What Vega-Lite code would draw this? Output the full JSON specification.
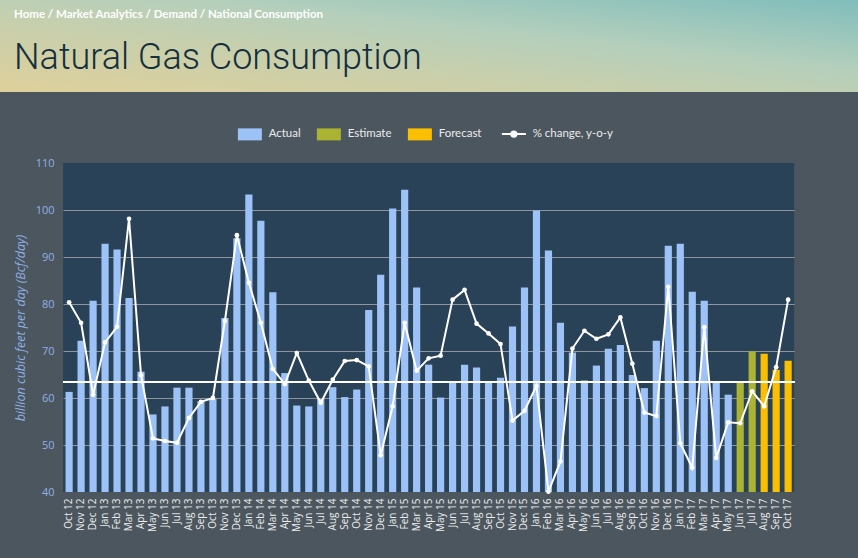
{
  "$schema": "https://vega.github.io/schema/vega-lite/v6.json",
  "background": "#4b565e",
  "padding": {"left": 0, "top": 0, "right": 0, "bottom": 26},
  "spacing": 36,
  "center": true,
  "config": {
    "view": {"stroke": null},
    "legend": {"layout": {"top": {"anchor": "middle"}}}
  },
  "resolve": {"scale": {"color": "independent"}, "legend": {"color": "independent"}},
  "datasets": {
    "gas": [
      {"month": "Oct 12", "value": 61.3, "type": "Actual", "pct": 9.0},
      {"month": "Nov 12", "value": 72.2, "type": "Actual", "pct": 6.7},
      {"month": "Dec 12", "value": 80.7, "type": "Actual", "pct": -1.4},
      {"month": "Jan 13", "value": 92.8, "type": "Actual", "pct": 4.5},
      {"month": "Feb 13", "value": 91.6, "type": "Actual", "pct": 6.25},
      {"month": "Mar 13", "value": 81.3, "type": "Actual", "pct": 18.4},
      {"month": "Apr 13", "value": 65.6, "type": "Actual", "pct": 0.8},
      {"month": "May 13", "value": 56.5, "type": "Actual", "pct": -6.3},
      {"month": "Jun 13", "value": 58.2, "type": "Actual", "pct": -6.6},
      {"month": "Jul 13", "value": 62.2, "type": "Actual", "pct": -6.8},
      {"month": "Aug 13", "value": 62.2, "type": "Actual", "pct": -4.0},
      {"month": "Sep 13", "value": 59.3, "type": "Actual", "pct": -2.2},
      {"month": "Oct 13", "value": 59.8, "type": "Actual", "pct": -1.75},
      {"month": "Nov 13", "value": 77.0, "type": "Actual", "pct": 6.9},
      {"month": "Dec 13", "value": 94.0, "type": "Actual", "pct": 16.55},
      {"month": "Jan 14", "value": 103.3, "type": "Actual", "pct": 11.2},
      {"month": "Feb 14", "value": 97.7, "type": "Actual", "pct": 6.7},
      {"month": "Mar 14", "value": 82.5, "type": "Actual", "pct": 1.5},
      {"month": "Apr 14", "value": 65.3, "type": "Actual", "pct": -0.2},
      {"month": "May 14", "value": 58.4, "type": "Actual", "pct": 3.3},
      {"month": "Jun 14", "value": 58.2, "type": "Actual", "pct": 0.2},
      {"month": "Jul 14", "value": 59.8, "type": "Actual", "pct": -2.3},
      {"month": "Aug 14", "value": 62.3, "type": "Actual", "pct": 0.3},
      {"month": "Sep 14", "value": 60.2, "type": "Actual", "pct": 2.4},
      {"month": "Oct 14", "value": 61.8, "type": "Actual", "pct": 2.5},
      {"month": "Nov 14", "value": 78.7, "type": "Actual", "pct": 1.8},
      {"month": "Dec 14", "value": 86.2, "type": "Actual", "pct": -8.2},
      {"month": "Jan 15", "value": 100.3, "type": "Actual", "pct": -2.7},
      {"month": "Feb 15", "value": 104.3, "type": "Actual", "pct": 6.7},
      {"month": "Mar 15", "value": 83.5, "type": "Actual", "pct": 1.3},
      {"month": "Apr 15", "value": 67.1, "type": "Actual", "pct": 2.7},
      {"month": "May 15", "value": 60.1, "type": "Actual", "pct": 3.0},
      {"month": "Jun 15", "value": 63.6, "type": "Actual", "pct": 9.3},
      {"month": "Jul 15", "value": 67.1, "type": "Actual", "pct": 10.4},
      {"month": "Aug 15", "value": 66.5, "type": "Actual", "pct": 6.6},
      {"month": "Sep 15", "value": 63.6, "type": "Actual", "pct": 5.5},
      {"month": "Oct 15", "value": 64.3, "type": "Actual", "pct": 4.3},
      {"month": "Nov 15", "value": 75.2, "type": "Actual", "pct": -4.3},
      {"month": "Dec 15", "value": 83.5, "type": "Actual", "pct": -3.2},
      {"month": "Jan 16", "value": 99.9, "type": "Actual", "pct": -0.4},
      {"month": "Feb 16", "value": 91.4, "type": "Actual", "pct": -12.3},
      {"month": "Mar 16", "value": 76.0, "type": "Actual", "pct": -8.9},
      {"month": "Apr 16", "value": 69.7, "type": "Actual", "pct": 3.8},
      {"month": "May 16", "value": 63.7, "type": "Actual", "pct": 5.8},
      {"month": "Jun 16", "value": 66.9, "type": "Actual", "pct": 4.9},
      {"month": "Jul 16", "value": 70.5, "type": "Actual", "pct": 5.4},
      {"month": "Aug 16", "value": 71.3, "type": "Actual", "pct": 7.3},
      {"month": "Sep 16", "value": 64.9, "type": "Actual", "pct": 2.1},
      {"month": "Oct 16", "value": 62.1, "type": "Actual", "pct": -3.4},
      {"month": "Nov 16", "value": 72.2, "type": "Actual", "pct": -3.8},
      {"month": "Dec 16", "value": 92.4, "type": "Actual", "pct": 10.75},
      {"month": "Jan 17", "value": 92.8, "type": "Actual", "pct": -6.85},
      {"month": "Feb 17", "value": 82.6, "type": "Actual", "pct": -9.6},
      {"month": "Mar 17", "value": 80.7, "type": "Actual", "pct": 6.2},
      {"month": "Apr 17", "value": 63.6, "type": "Actual", "pct": -8.5},
      {"month": "May 17", "value": 60.7, "type": "Actual", "pct": -4.5},
      {"month": "Jun 17", "value": 63.6, "type": "Estimate", "pct": -4.6},
      {"month": "Jul 17", "value": 69.9, "type": "Estimate", "pct": -1.0},
      {"month": "Aug 17", "value": 69.4, "type": "Forecast", "pct": -2.7},
      {"month": "Sep 17", "value": 66.0, "type": "Forecast", "pct": 1.7},
      {"month": "Oct 17", "value": 67.9, "type": "Forecast", "pct": 9.3}
    ]
  },
  "vconcat": [
    {
      "width": 858,
      "height": 92,
      "data": {"values": [{"band": "header"}]},
      "mark": {
        "type": "rect",
        "fill": {
          "gradient": "linear",
          "x1": 0, "y1": 1, "x2": 1, "y2": 0,
          "stops": [
            {"offset": 0, "color": "#dfd09b"},
            {"offset": 0.35, "color": "#c9cfab"},
            {"offset": 0.62, "color": "#b4cfbc"},
            {"offset": 1, "color": "#80bdbc"}
          ]
        }
      },
      "title": {
        "text": "Home / Market Analytics / Demand / National Consumption",
        "subtitle": "Natural Gas Consumption",
        "anchor": "start",
        "frame": "group",
        "orient": "top",
        "offset": -76,
        "dx": 14,
        "font": "Lato",
        "fontSize": 11.5,
        "fontWeight": "bold",
        "color": "#ffffff",
        "subtitleFont": "Roboto",
        "subtitleFontSize": 36,
        "subtitleFontWeight": 300,
        "subtitleColor": "#14303f",
        "subtitlePadding": 21
      }
    },
    {
      "resolve": {"scale": {"color": "independent"}, "legend": {"color": "independent"}},
      "vconcat": [
        {
          "width": 731,
          "height": 329,
          "view": {"fill": "#2a4257", "stroke": null},
          "data": {"name": "gas"},
          "layer": [
            {
              "mark": {"type": "bar"},
              "encoding": {
                "x": {
                  "field": "month",
                  "type": "ordinal",
                  "sort": null,
                  "scale": {"paddingInner": 0.4, "paddingOuter": 0.2},
                  "axis": {
                    "title": null,
                    "labelAngle": 270,
                    "labelFont": "Open Sans",
                    "labelFontSize": 10,
                    "labelColor": "#eeeeee",
                    "labelPadding": 6,
                    "ticks": false,
                    "domain": false
                  }
                },
                "y": {
                  "field": "value",
                  "type": "quantitative",
                  "scale": {"domain": [40, 110], "zero": false, "nice": false},
                  "axis": {
                    "title": "billion cubic feet per day (Bcf/day)",
                    "titleFont": "Open Sans",
                    "titleFontSize": 12.5,
                    "titleFontStyle": "italic",
                    "titleFontWeight": "normal",
                    "titleColor": "#8fb0e6",
                    "titlePadding": 8,
                    "labelFont": "Open Sans",
                    "labelFontSize": 11,
                    "labelColor": "#8fb0e6",
                    "labelPadding": 9,
                    "values": [40, 50, 60, 70, 80, 90, 100, 110],
                    "ticks": false,
                    "domain": false,
                    "gridColor": "#8f959b",
                    "gridWidth": 1,
                    "gridOpacity": {"condition": {"test": "datum.value == 40 || datum.value == 110", "value": 0}, "value": 1}
                  }
                },
                "y2": {"datum": 40},
                "color": {
                  "field": "type",
                  "type": "nominal",
                  "scale": {
                    "domain": ["Actual", "Estimate", "Forecast", "% change, y-o-y"],
                    "range": ["#9cc2f7", "#aab332", "#f9bf00", "#ffffff"]
                  },
                  "legend": {
                    "title": null,
                    "orient": "top",
                    "direction": "horizontal",
                    "offset": 22,
                    "symbolSize": 576,
                    "labelFont": "Lato",
                    "labelFontSize": 11.5,
                    "labelColor": "#ececec",
                    "labelOffset": 13,
                    "columnPadding": 15,
                    "encode": {
                      "symbols": {
                        "update": {
                          "shape": {"signal": "datum.value === '% change, y-o-y' ? 'M-1,0H1M-0.22,0A0.22,0.22,0,1,1,0.22,0A0.22,0.22,0,1,1,-0.22,0Z' : 'M-1,-0.5H1V0.5H-1Z'"},
                          "fill": {"signal": "datum.value === 'Actual' ? '#9cc2f7' : datum.value === 'Estimate' ? '#aab332' : datum.value === 'Forecast' ? '#f9bf00' : '#ffffff'"},
                          "stroke": {"signal": "datum.value === '% change, y-o-y' ? '#ffffff' : 'transparent'"},
                          "strokeWidth": {"signal": "datum.value === '% change, y-o-y' ? 2 : 0"},
                          "opacity": {"value": 1}
                        }
                      }
                    }
                  }
                }
              }
            },
            {
              "layer": [
                {
                  "mark": {"type": "rule", "color": "#ffffff", "strokeWidth": 1.5},
                  "encoding": {
                    "y": {"datum": 0, "type": "quantitative", "axis": null}
                  }
                },
                {
                  "mark": {"type": "line", "strokeWidth": 2},
                  "encoding": {
                    "x": {"field": "month", "type": "ordinal", "sort": null},
                    "y": {
                      "field": "pct",
                      "type": "quantitative",
                      "scale": {"domain": [-12.3333, 24.6667], "zero": false, "nice": false},
                      "axis": {
                        "orient": "right",
                        "title": "annual change",
                        "titleAngle": 270,
                        "titleFont": "Open Sans",
                        "titleFontSize": 12.5,
                        "titleFontStyle": "italic",
                        "titleFontWeight": "normal",
                        "titleColor": "#f0f0f0",
                        "titlePadding": 15,
                        "labelFont": "Open Sans",
                        "labelFontSize": 10.5,
                        "labelColor": "#e8e8e8",
                        "labelPadding": 8,
                        "values": [-12.3333, -6.16667, 0, 6.16667, 12.3333, 18.5, 24.6667],
                        "labelExpr": "round(datum.value) + '%'",
                        "ticks": false,
                        "domain": false,
                        "grid": false
                      }
                    },
                    "color": {"datum": "% change, y-o-y"}
                  }
                },
                {
                  "mark": {"type": "point", "filled": true, "size": 22, "opacity": 1},
                  "encoding": {
                    "x": {"field": "month", "type": "ordinal", "sort": null},
                    "y": {"field": "pct", "type": "quantitative"},
                    "color": {"datum": "% change, y-o-y"}
                  }
                }
              ]
            }
          ],
          "resolve": {"scale": {"y": "independent"}, "axis": {"y": "independent"}}
        }
      ]
    }
  ]
}
